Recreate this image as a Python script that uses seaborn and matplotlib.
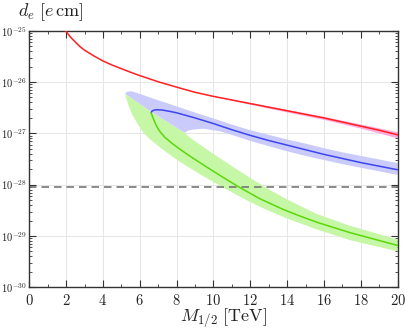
import numpy as np
import pandas as pd
import matplotlib
matplotlib.use("Agg")
import matplotlib.pyplot as plt
from matplotlib.ticker import FixedLocator, FuncFormatter, MultipleLocator, LogLocator, NullFormatter
import seaborn as sns

# ---- data (x = M_1/2 in TeV, y = log10(d_e / e cm)) ----
red_M = [1.94, 2.25, 2.5, 2.75, 3.0, 3.5, 4.0, 4.5, 5.0, 5.5, 6.0, 7.0, 8.0, 9.0, 10.0,
         11.0, 12.0, 13.0, 14.0, 15.0, 16.0, 17.0, 18.0, 19.0, 20.0]
red_d = [-24.99, -25.13, -25.22, -25.31, -25.38, -25.49, -25.59, -25.67, -25.74, -25.81,
         -25.875, -25.995, -26.10, -26.20, -26.28, -26.35, -26.42, -26.49, -26.56, -26.63,
         -26.70, -26.78, -26.86, -26.94, -27.03]
red_band_M = [9.0, 12.0, 14.0, 16.0, 18.0, 20.0]
red_band_hi = [-26.20, -26.405, -26.535, -26.67, -26.82, -26.97]
red_band_lo = [-26.20, -26.435, -26.585, -26.73, -26.90, -27.09]

blue_M = [6.62, 6.65, 6.75, 6.9, 7.2, 7.6, 8.0, 8.5, 9.0, 10.0, 11.0, 12.0, 13.0, 14.0,
          15.0, 16.0, 17.0, 18.0, 19.0, 20.0]
blue_d = [-26.60, -26.57, -26.55, -26.54, -26.545, -26.57, -26.60, -26.65, -26.70, -26.81,
          -26.93, -27.04, -27.14, -27.23, -27.32, -27.41, -27.49, -27.57, -27.64, -27.71]
blue_up_M = [5.21, 5.3, 5.54, 6.0, 6.62, 7.71, 9.2, 10.0, 11.0, 12.0, 13.0, 14.0, 15.0,
             16.0, 17.0, 18.0, 19.0, 20.0]
blue_up_d = [-26.23, -26.19, -26.18, -26.23, -26.31, -26.44, -26.62, -26.71, -26.83, -26.94,
             -27.03, -27.12, -27.20, -27.29, -27.37, -27.44, -27.51, -27.58]
blue_lo_M = [5.21, 6.62, 8.45, 8.6, 8.9, 9.45, 10.35, 11.26, 12.0, 13.0, 14.0, 15.0, 16.0,
             17.0, 18.0, 19.0, 20.0]
blue_lo_d = [-26.23, -26.58, -26.99, -26.95, -26.925, -26.91, -26.96, -27.06, -27.15, -27.25,
             -27.35, -27.44, -27.52, -27.60, -27.67, -27.74, -27.81]

green_M = [6.62, 6.72, 6.82, 6.96, 7.10, 7.37, 7.75, 8.18, 8.6, 9.0, 9.8, 10.6, 11.44,
           12.52, 13.77, 14.7, 15.62, 17.41, 20.0]
green_d = [-26.604, -26.70, -26.79, -26.89, -26.97, -27.08, -27.195, -27.31, -27.415,
           -27.51, -27.695, -27.875, -28.058, -28.275, -28.48, -28.612, -28.733, -28.935,
           -29.185]
green_up_M = [5.21, 6.62, 8.45, 8.6, 8.9, 9.3, 10.0, 11.0, 12.0, 13.0, 14.0, 15.6, 17.4, 20.0]
green_up_d = [-26.23, -26.58, -26.99, -27.045, -27.13, -27.23, -27.40, -27.64, -27.87, -28.09,
              -28.29, -28.57, -28.80, -29.07]
green_lo_M = [5.21, 5.25, 5.4, 5.6, 5.9, 6.2, 6.6, 7.1, 7.6, 8.2, 9.1, 10.0, 10.9, 12.0,
              13.0, 14.0, 15.6, 17.4, 20.0]
green_lo_d = [-26.23, -26.30, -26.47, -26.64, -26.83, -26.99, -27.13, -27.275, -27.41, -27.56,
              -27.76, -27.95, -28.13, -28.34, -28.51, -28.66, -28.87, -29.08, -29.30]

limit_d = -28.05
x_ticks = [0, 2, 4, 6, 8, 10, 12, 14, 16, 18, 20]
y_decades = [-30, -29, -28, -27, -26, -25]

# ---- style ----
sns.set_style("ticks")
plt.rcParams["mathtext.fontset"] = "cm"
plt.rcParams["font.family"] = ["DejaVu Serif"]

fig = plt.figure(figsize=(4.05, 3.29), dpi=100)
ax = fig.add_axes([0.0723, 0.1267, 0.9097, 0.78])

def p(v):
    return np.power(10.0, np.asarray(v, dtype=float))

# bands
ax.fill(list(green_up_M) + list(green_lo_M)[::-1],
        list(p(green_up_d)) + list(p(green_lo_d))[::-1],
        color="#c6f7a6", lw=0, zorder=1)
ax.fill(list(blue_up_M) + list(blue_lo_M)[::-1],
        list(p(blue_up_d)) + list(p(blue_lo_d))[::-1],
        color="#cacbfa", lw=0, zorder=1)
ax.fill_between(red_band_M, p(red_band_lo), p(red_band_hi), color="#ffaadd", lw=0, zorder=1)

# lines
df_red = pd.DataFrame({"M": red_M, "d": p(red_d)})
df_blue = pd.DataFrame({"M": blue_M, "d": p(blue_d)})
df_green = pd.DataFrame({"M": green_M, "d": p(green_d)})
sns.lineplot(data=df_red, x="M", y="d", ax=ax, color="#ff2020", lw=1.1, sort=False, estimator=None, zorder=3)
sns.lineplot(data=df_blue, x="M", y="d", ax=ax, color="#3c46f0", lw=1.1, sort=False, estimator=None, zorder=3)
sns.lineplot(data=df_green, x="M", y="d", ax=ax, color="#5ad80a", lw=1.1, sort=False, estimator=None, zorder=3)
ax.axhline(p(limit_d), color="#777777", lw=1.2, ls=(0, (4.5, 3)), zorder=2)

ax.set_yscale("log")
ax.set_xlim(0, 20)
ax.set_ylim(p(y_decades[0]), p(y_decades[-1]))

ax.xaxis.set_major_locator(FixedLocator(x_ticks))
ax.xaxis.set_minor_locator(MultipleLocator(1))
ax.xaxis.set_major_formatter(FuncFormatter(lambda v, pos: r"$%d$" % round(v)))
ax.yaxis.set_major_locator(FixedLocator(p(y_decades)))
ax.yaxis.set_minor_locator(LogLocator(base=10, subs=np.arange(2, 10), numticks=20))
ax.yaxis.set_minor_formatter(NullFormatter())
ax.yaxis.set_major_formatter(FuncFormatter(lambda v, pos: r"$10^{%d}$" % round(np.log10(v))))

ax.tick_params(which="both", direction="in", top=True, right=True, colors="#333333")
ax.tick_params(which="major", length=5, width=0.8)
ax.tick_params(which="minor", length=2.5, width=0.6)
ax.tick_params(axis="x", labelsize=10.5, labelcolor="#222222", pad=4)
ax.tick_params(axis="y", labelsize=7.6, labelcolor="#222222", pad=1.5)

ax.grid(True, which="major", color="#e6e6e6", lw=0.7)
ax.set_axisbelow(True)
for s in ax.spines.values():
    s.set_color("#333333")
    s.set_linewidth(1.0)

ax.set_xlabel("")
ax.set_ylabel("")
fig.text(0.126, 0.964, r"$d_e\ [e\,\mathrm{cm}]$", fontsize=13, ha="center", va="center", color="#222222")
fig.text(0.553, 0.033, r"$M_{1/2}\ [\mathrm{TeV}]$", fontsize=13, ha="center", va="center", color="#222222")

fig.savefig("out.png", dpi=100)
